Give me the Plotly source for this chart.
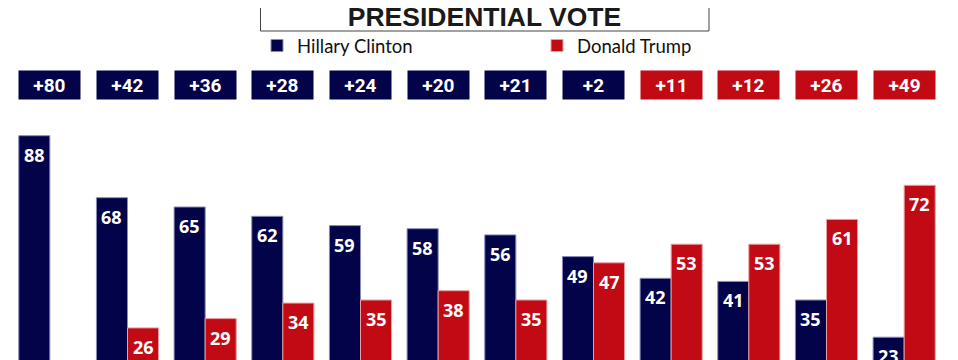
import plotly.graph_objects as go

groups = ["G1", "G2", "G3", "G4", "G5", "G6", "G7", "G8", "G9", "G10", "G11", "G12"]
clinton = [88, 68, 65, 62, 59, 58, 56, 49, 42, 41, 35, 23]
trump = [8, 26, 29, 34, 35, 38, 35, 47, 53, 53, 61, 72]
margin_labels = ["+80", "+42", "+36", "+28", "+24", "+20", "+21", "+2", "+11", "+12", "+26", "+49"]

NAVY = "#03034a"
RED = "#c20a14"

# page body has an 8px margin; the figure is sized to fill the rest of the window
OFF = 8
W, H = 950, 352
ML, MR, MT, MB = 3, 15, 102, 0
plot_w = W - ML - MR
plot_h = H - MT - MB

def py(sy):  # screen pixel y -> paper y
    return (OFF + H - MB - sy) / plot_h

def pxx(sx):  # screen pixel x -> paper x
    return (sx - OFF - ML) / plot_w

PXU = 3.1  # pixels per vote point
ymin = (408.5 - (OFF + H - MB)) / PXU

fig = go.Figure()
fig.add_trace(go.Bar(name="Hillary Clinton", x=groups, y=clinton,
                     marker=dict(color=NAVY, line=dict(color="#8a8ab8", width=1))))
fig.add_trace(go.Bar(name="Donald Trump", x=groups, y=trump,
                     marker=dict(color=RED, line=dict(color="#e8a0a0", width=1))))

annotations = []
for i, (c, t) in enumerate(zip(clinton, trump)):
    for off, v in ((-0.2, c), (0.2, t)):
        annotations.append(dict(x=i + off, y=v, xref="x", yref="y", text=str(v),
                                showarrow=False, yshift=-19,
                                font=dict(family="Open Sans", size=18, color="white", weight="bold")))
    diff = c - t
    annotations.append(dict(x=i, y=py(85), xref="x", yref="paper", text=margin_labels[i],
                            xanchor="center", yanchor="middle",
                            showarrow=False, width=61, height=28, borderpad=0,
                            bgcolor=NAVY if diff > 0 else RED,
                            font=dict(family="Liberation Sans Narrow, Roboto", size=19,
                                      color="white", weight="bold")))

fig.update_layout(
    width=W, height=H,
    margin=dict(l=ML, r=MR, t=MT, b=MB, pad=0),
    plot_bgcolor="white", paper_bgcolor="white",
    barmode="group", bargap=0.2, bargroupgap=0,
    title=dict(text="<b>PRESIDENTIAL VOTE</b>", x=(484.5 - OFF) / W, xanchor="center",
               y=1 - (16.5 - OFF) / H, yanchor="middle",
               font=dict(family="Liberation Sans", size=26.5, color="#1a1a1a")),
    xaxis=dict(showticklabels=False, showgrid=False, zeroline=False, showline=False, ticks=""),
    yaxis=dict(range=[ymin, ymin + plot_h / PXU],
               showticklabels=False, showgrid=False, zeroline=False, showline=False, ticks=""),
    showlegend=True,
    legend=dict(orientation="h", x=pxx(257), xanchor="left", y=py(46), yanchor="middle",
                entrywidth=235, entrywidthmode="pixels", bgcolor="rgba(0,0,0,0)",
                font=dict(family="Lato", size=18.5, color="#111111"), itemclick=False),
    annotations=annotations,
    shapes=[dict(type="rect", xref="paper", yref="paper",
                 x0=pxx(260.5), x1=pxx(709), y0=py(31), y1=py(-5),
                 line=dict(color="#444444", width=1), fillcolor="rgba(0,0,0,0)", layer="below")],
)

fig.write_html("out.html")
